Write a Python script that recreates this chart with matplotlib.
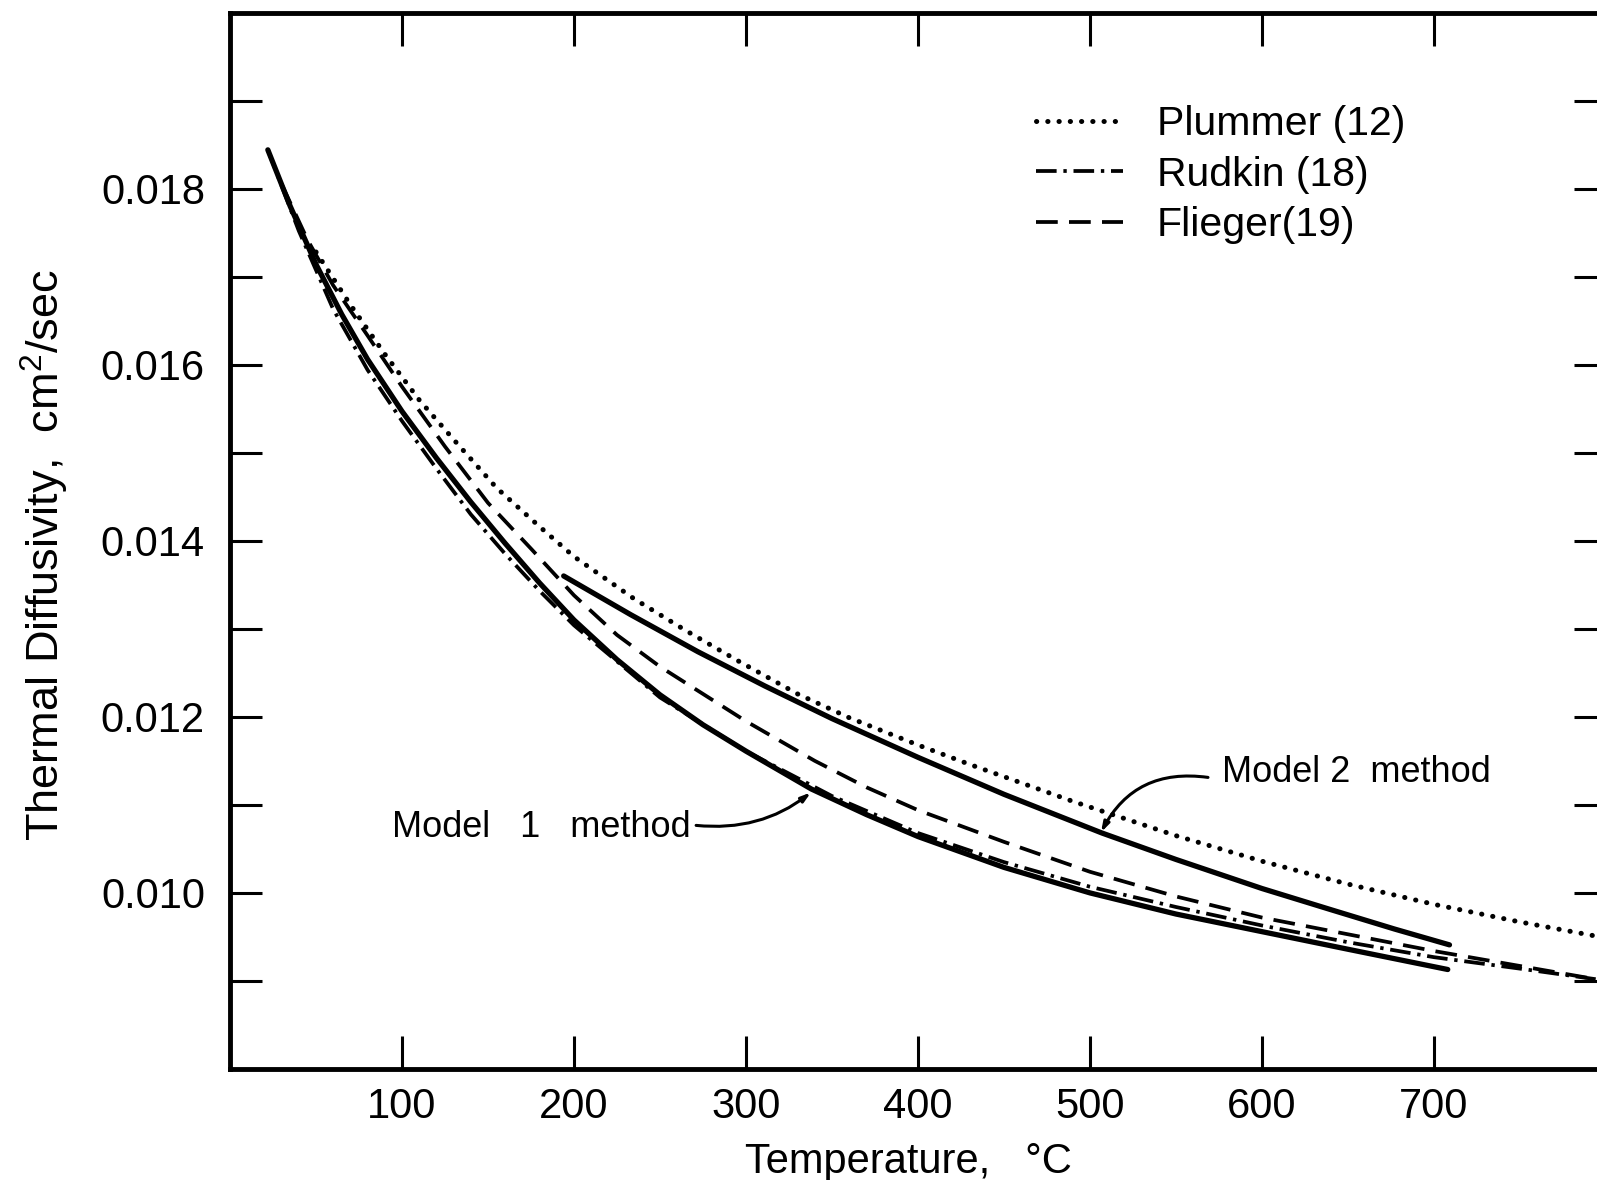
import matplotlib
matplotlib.use('Agg')
import matplotlib.pyplot as plt
from matplotlib.ticker import FixedLocator, FixedFormatter

plt.rcParams['font.family'] = ['Liberation Sans', 'DejaVu Sans']
plt.rcParams['mathtext.fontset'] = 'custom'
plt.rcParams['mathtext.rm'] = 'Liberation Sans'
plt.rcParams['mathtext.it'] = 'Liberation Sans'

# --- curves (temperature in C, diffusivity in cm2/sec) ---
plummer_T = [50, 70, 90, 110, 130, 155, 180, 200, 235, 265, 295, 330, 360, 400, 430, 490, 550, 600, 650, 700, 750, 794]
plummer_D = [0.01728, 0.01668, 0.01612, 0.01560, 0.01515, 0.01460, 0.01416, 0.01382, 0.01334, 0.01298, 0.01264,
             0.01226, 0.01199, 0.01168, 0.01146, 0.01104, 0.01065, 0.01036, 0.01010, 0.00987, 0.00967, 0.00951]

rudkin_T = [22, 40, 60, 80, 100, 120, 140, 160, 180, 200, 250, 300, 350, 400, 450, 500, 550, 600, 650, 700, 750, 794]
rudkin_D = [0.01844, 0.01752, 0.01663, 0.01594, 0.01536, 0.01482, 0.01430, 0.01385, 0.01343, 0.01304, 0.01222,
            0.01161, 0.01110, 0.01068, 0.01035, 0.01007, 0.00984, 0.00963, 0.00944, 0.00927, 0.00914, 0.00902]

flieger_T = [30, 45, 60, 80, 100, 125, 150, 175, 200, 225, 250, 275, 300, 340, 370, 400, 450, 500, 550, 600, 650, 700, 750, 794]
flieger_D = [0.01805, 0.01742, 0.01690, 0.01633, 0.01575, 0.01507, 0.01443, 0.01391, 0.01338, 0.01293, 0.01257, 0.01226,
             0.01195, 0.01150, 0.01120, 0.01094, 0.01058, 0.01024, 0.00996, 0.00972, 0.00953, 0.00934, 0.00917, 0.00902]

model1_T = [22, 35, 50, 65, 80, 100, 120, 140, 160, 180, 200, 225, 250, 275, 300, 338, 370, 400, 450, 500, 550, 600, 650, 708]
model1_D = [0.01844, 0.01780, 0.01714, 0.01657, 0.01606, 0.01547, 0.01494, 0.01444, 0.01397, 0.01352, 0.01310, 0.01265,
            0.01225, 0.01191, 0.01161, 0.01118, 0.01089, 0.01064, 0.01029, 0.01000, 0.00976, 0.00956, 0.00936, 0.00913]

model2_T = [194, 233, 272, 311, 350, 400, 450, 507, 550, 600, 640, 677, 709]
model2_D = [0.01360, 0.01316, 0.01274, 0.01235, 0.01198, 0.01154, 0.01112, 0.01068, 0.01038, 0.01005, 0.00981,
            0.00959, 0.00941]

x_ticks = [100, 200, 300, 400, 500, 600, 700]
x_tick_labels = ['100', '200', '300', '400', '500', '600', '700']
y_ticks = [0.009, 0.010, 0.011, 0.012, 0.013, 0.014, 0.015, 0.016, 0.017, 0.018, 0.019]
y_tick_labels = ['', '0.010', '', '0.012', '', '0.014', '', '0.016', '', '0.018', '']

# figure is 1597 x 1180 px; the right spine (800 C) sits just past the edge
fig = plt.figure(figsize=(15.97, 11.80), dpi=100)
ax = fig.add_axes([230 / 1597, 111 / 1180, 1376 / 1597, 1056.5 / 1180])

l_plum, = ax.plot(plummer_T, plummer_D, color='k', lw=3.6, linestyle=(0, (0.05, 2.2)),
                  dash_capstyle='round', label='Plummer (12)')
l_rud, = ax.plot(rudkin_T, rudkin_D, color='k', lw=2.7, linestyle=(0, (5.5, 1.8, 0.9, 1.8)), label='Rudkin (18)')
l_fli, = ax.plot(flieger_T, flieger_D, color='k', lw=2.7, linestyle=(0, (5.8, 3.0)), label='Flieger(19)')
ax.plot(model1_T, model1_D, color='k', lw=3.8, solid_capstyle='round', solid_joinstyle='round')
ax.plot(model2_T, model2_D, color='k', lw=3.8, solid_capstyle='round', solid_joinstyle='round')

ax.set_xlim(0, 800)
ax.set_ylim(0.008, 0.020)
ax.xaxis.set_major_locator(FixedLocator(x_ticks))
ax.xaxis.set_major_formatter(FixedFormatter(x_tick_labels))
ax.yaxis.set_major_locator(FixedLocator(y_ticks))
ax.yaxis.set_major_formatter(FixedFormatter(y_tick_labels))

ax.tick_params(axis='both', direction='in', top=True, right=True, width=2.2, labelsize=30, color='k')
ax.tick_params(axis='x', length=24, pad=13)
ax.tick_params(axis='y', length=23, pad=18)
for s in ax.spines.values():
    s.set_linewidth(3.5)

ax.set_xlabel('Temperature,   \u00b0C', fontsize=30)
ax.xaxis.set_label_coords(0.4927, -0.069)
ax.set_ylabel('Thermal Diffusivity,  cm$^2$/sec', fontsize=32.5)
ax.yaxis.set_label_coords(-0.1156, 0.4865)

ax.legend(handles=[l_plum, l_rud, l_fli], loc='upper left', bbox_to_anchor=(0.5858, 0.912),
          frameon=False, fontsize=29.5, handlelength=2.12, handletextpad=0.82, labelspacing=0.30,
          borderpad=0, borderaxespad=0)

# annotations
ax.text(94, 0.010631, 'Model   1   method', fontsize=26, ha='left', va='baseline')
ax.annotate('', xy=(337.8, 0.011142), xytext=(271, 0.010767),
            arrowprops=dict(arrowstyle='-|>,head_length=0.55,head_width=0.17', color='k', lw=2.2,
                            connectionstyle='arc3,rad=0.2', shrinkA=0, shrinkB=0))
ax.text(576.7, 0.011256, 'Model 2  method', fontsize=26, ha='left', va='baseline')
ax.annotate('', xy=(506.4, 0.010688), xytext=(568.6, 0.011312),
            arrowprops=dict(arrowstyle='-|>,head_length=0.55,head_width=0.17', color='k', lw=2.2,
                            connectionstyle='arc3,rad=0.35', shrinkA=0, shrinkB=0))

fig.savefig('out.png', dpi=100, facecolor='white')
